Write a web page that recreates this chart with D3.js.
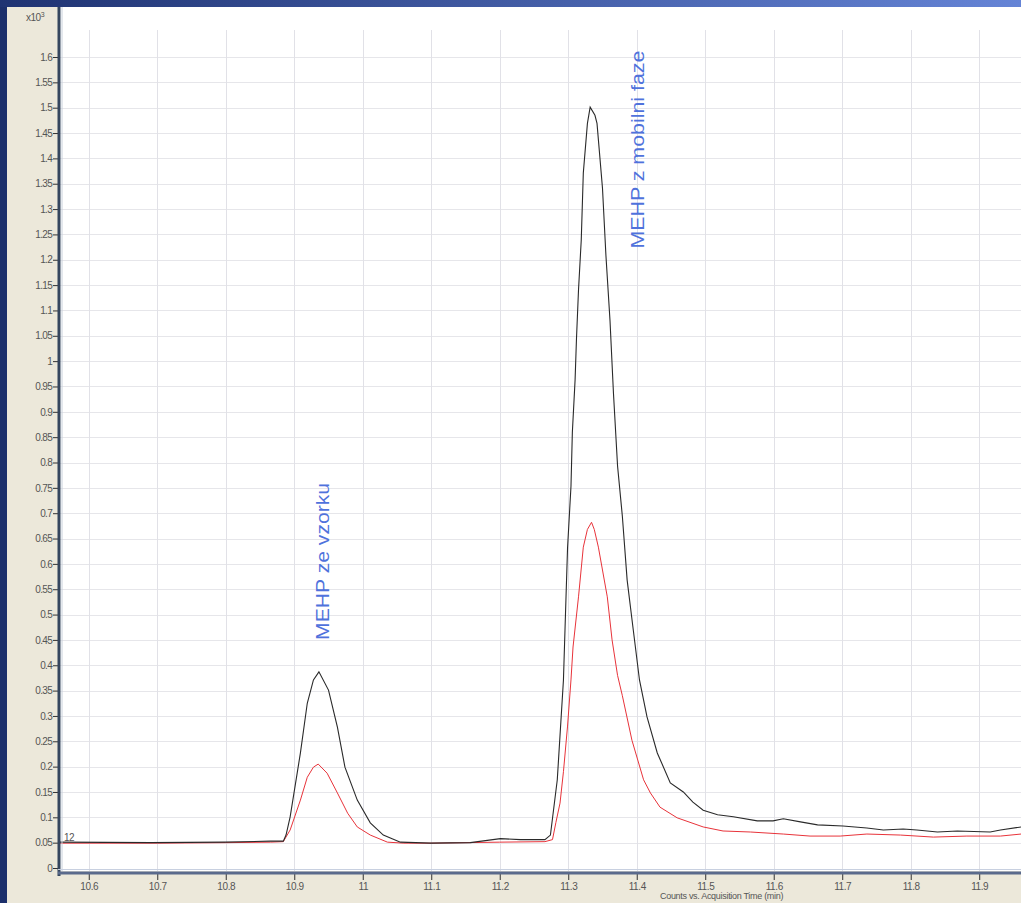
<!DOCTYPE html>
<html>
<head>
<meta charset="utf-8">
<script src="https://cdn.jsdelivr.net/npm/d3@7"></script>
<style>
  body { margin: 0; background: #1c2f6b; }
  svg { display: block; font-family: "Liberation Sans", Arial, sans-serif; }
</style>
</head>
<body>
<script>
// chromatogram data (time in min, counts in x10^3)
var blackT = [10.558, 10.69, 10.799, 10.865, 10.884, 10.888, 10.894, 10.909, 10.919, 10.928, 10.936, 10.95, 10.963, 10.974, 10.992, 11.011, 11.03, 11.055, 11.099, 11.157, 11.201, 11.23, 11.266, 11.274, 11.284, 11.293, 11.296, 11.299, 11.304, 11.306, 11.31, 11.312, 11.315, 11.319, 11.322, 11.328, 11.332, 11.339, 11.342, 11.35, 11.355, 11.361, 11.366, 11.372, 11.379, 11.386, 11.395, 11.404, 11.415, 11.43, 11.449, 11.468, 11.482, 11.497, 11.518, 11.541, 11.576, 11.599, 11.614, 11.639, 11.664, 11.701, 11.736, 11.76, 11.789, 11.809, 11.839, 11.868, 11.916, 11.931, 11.961];
var blackV = [0.051, 0.050, 0.051, 0.053, 0.053, 0.065, 0.101, 0.227, 0.325, 0.371, 0.387, 0.351, 0.278, 0.199, 0.134, 0.089, 0.065, 0.051, 0.049, 0.050, 0.058, 0.056, 0.056, 0.065, 0.174, 0.371, 0.502, 0.632, 0.753, 0.859, 0.963, 1.043, 1.141, 1.239, 1.371, 1.469, 1.501, 1.485, 1.469, 1.341, 1.209, 1.079, 0.937, 0.793, 0.694, 0.568, 0.469, 0.371, 0.298, 0.227, 0.168, 0.150, 0.130, 0.114, 0.105, 0.101, 0.093, 0.093, 0.097, 0.091, 0.085, 0.083, 0.079, 0.075, 0.077, 0.075, 0.071, 0.073, 0.071, 0.075, 0.081];

var redT = [10.558, 10.7, 10.8, 10.865, 10.884, 10.894, 10.909, 10.919, 10.928, 10.935, 10.948, 10.963, 10.978, 10.992, 11.011, 11.036, 11.06, 11.1, 11.2, 11.266, 11.277, 11.282, 11.288, 11.293, 11.299, 11.304, 11.307, 11.315, 11.322, 11.328, 11.334, 11.338, 11.344, 11.357, 11.364, 11.372, 11.379, 11.393, 11.41, 11.42, 11.434, 11.459, 11.497, 11.526, 11.566, 11.614, 11.653, 11.697, 11.736, 11.785, 11.833, 11.882, 11.931, 11.961];
var redV = [0.049, 0.049, 0.050, 0.051, 0.052, 0.075, 0.134, 0.179, 0.199, 0.205, 0.187, 0.148, 0.108, 0.081, 0.065, 0.051, 0.049, 0.049, 0.051, 0.052, 0.056, 0.090, 0.128, 0.190, 0.280, 0.371, 0.436, 0.535, 0.633, 0.668, 0.682, 0.668, 0.633, 0.535, 0.450, 0.380, 0.340, 0.252, 0.174, 0.148, 0.120, 0.099, 0.081, 0.073, 0.071, 0.067, 0.063, 0.063, 0.067, 0.065, 0.061, 0.063, 0.063, 0.067];

var xTicks = [10.6, 10.7, 10.8, 10.9, 11, 11.1, 11.2, 11.3, 11.4, 11.5, 11.6, 11.7, 11.8, 11.9];
var yTicks = d3.range(0, 33).map(function (i) { return +(i * 0.05).toFixed(2); });

var annotations = [
  { t: 10.950, v: 0.45, text: "MEHP ze vzorku", len: 157 },
  { t: 11.410, v: 1.222, text: "MEHP z mobilni faze", len: 198 }
];

var W = 1021, H = 903;

var x = d3.scaleLinear().domain([10.558, 11.961]).range([60, 1021]);
var y = d3.scaleLinear().domain([0, 1.6]).range([868, 57]);

var svg = d3.select("body").append("svg")
  .attr("width", W)
  .attr("height", H);

var defs = svg.append("defs");
var grad = defs.append("linearGradient").attr("id", "topbar");
grad.append("stop").attr("offset", "0%").attr("stop-color", "#1f3372");
grad.append("stop").attr("offset", "100%").attr("stop-color", "#6584d6");

// window frame
svg.append("rect").attr("width", W).attr("height", H).attr("fill", "#1c2f6b");
svg.append("rect").attr("width", W).attr("height", 7).attr("fill", "url(#topbar)");
svg.append("rect").attr("x", 7).attr("y", 7).attr("width", W - 7).attr("height", H - 7).attr("fill", "#ece8da");

// plot area
svg.append("rect").attr("x", 60).attr("y", 7).attr("width", W - 60).attr("height", 864).attr("fill", "#ffffff");

// grid
svg.append("g").selectAll("line").data(yTicks.slice(1)).enter().append("line")
  .attr("x1", 60).attr("x2", W)
  .attr("y1", function (d) { return Math.round(y(d)) + 0.5; })
  .attr("y2", function (d) { return Math.round(y(d)) + 0.5; })
  .attr("stroke", "#e6e6ea").attr("stroke-width", 1);

svg.append("g").selectAll("line").data(xTicks).enter().append("line")
  .attr("x1", function (d) { return Math.round(x(d)) + 0.5; })
  .attr("x2", function (d) { return Math.round(x(d)) + 0.5; })
  .attr("y1", 30).attr("y2", 871)
  .attr("stroke", "#e1e1e7").attr("stroke-width", 1);

// traces
var lineB = d3.line()
  .x(function (d, i) { return x(blackT[i]); })
  .y(function (d) { return y(d); });
var lineR = d3.line()
  .x(function (d, i) { return x(redT[i]); })
  .y(function (d) { return y(d); });

svg.append("path").datum(redV)
  .attr("d", lineR)
  .attr("fill", "none").attr("stroke", "#e8333a").attr("stroke-width", 1);
svg.append("path").datum(blackV)
  .attr("d", lineB)
  .attr("fill", "none").attr("stroke", "#2a2a2a").attr("stroke-width", 1.1);

// axes
var yAxis = d3.axisLeft(y)
  .tickValues(yTicks)
  .tickSize(5)
  .tickPadding(1)
  .tickFormat(function (d) { return String(d); });
var gy = svg.append("g").attr("transform", "translate(58,0)").call(yAxis);
gy.select(".domain").remove();
gy.selectAll(".tick line").attr("stroke", "#333");
gy.selectAll(".tick text").attr("fill", "#555").attr("font-size", 10)
  .attr("letter-spacing", -0.7);

svg.append("line").attr("x1", 59).attr("x2", 59).attr("y1", 7).attr("y2", 876)
  .attr("stroke", "#35465e").attr("stroke-width", 3);
svg.append("line").attr("x1", 62).attr("x2", 62).attr("y1", 7).attr("y2", 871)
  .attr("stroke", "#c8d0da").attr("stroke-width", 1);

var xAxis = d3.axisBottom(x)
  .tickValues(xTicks)
  .tickSize(6)
  .tickPadding(3)
  .tickFormat(function (d) { return String(d); });
var gx = svg.append("g").attr("transform", "translate(0,874)").call(xAxis);
gx.select(".domain").remove();
gx.selectAll(".tick line").attr("stroke", "#333");
gx.selectAll(".tick text").attr("fill", "#555").attr("font-size", 10)
  .attr("letter-spacing", -0.4);

svg.append("line").attr("x1", 58).attr("x2", W).attr("y1", 869.5).attr("y2", 869.5)
  .attr("stroke", "#c8d0e0").attr("stroke-width", 1);
svg.append("line").attr("x1", 58).attr("x2", W).attr("y1", 873).attr("y2", 873)
  .attr("stroke", "#5a6a8c").attr("stroke-width", 3);

// axis captions
var cap = svg.append("text").attr("x", 26).attr("y", 21).attr("fill", "#555").attr("font-size", 10)
  .attr("letter-spacing", -0.5);
cap.append("tspan").text("x10");
cap.append("tspan").attr("dy", -4).attr("font-size", 7).text("3");

svg.append("text").attr("x", 660).attr("y", 899).attr("fill", "#555").attr("font-size", 9)
  .attr("letter-spacing", -0.3)
  .text("Counts vs. Acquisition Time (min)");

svg.append("text").attr("x", 64).attr("y", y(0.05) - 2).attr("fill", "#555").attr("font-size", 10)
  .attr("letter-spacing", -0.6).text("12");

// peak labels
svg.append("g").selectAll("text").data(annotations).enter().append("text")
  .attr("transform", function (d) { return "translate(" + x(d.t) + "," + y(d.v) + ") rotate(-90)"; })
  .attr("font-size", 18)
  .attr("fill", "#4f72dc")
  .attr("textLength", function (d) { return d.len; })
  .attr("lengthAdjust", "spacingAndGlyphs")
  .text(function (d) { return d.text; });
</script>
</body>
</html>
